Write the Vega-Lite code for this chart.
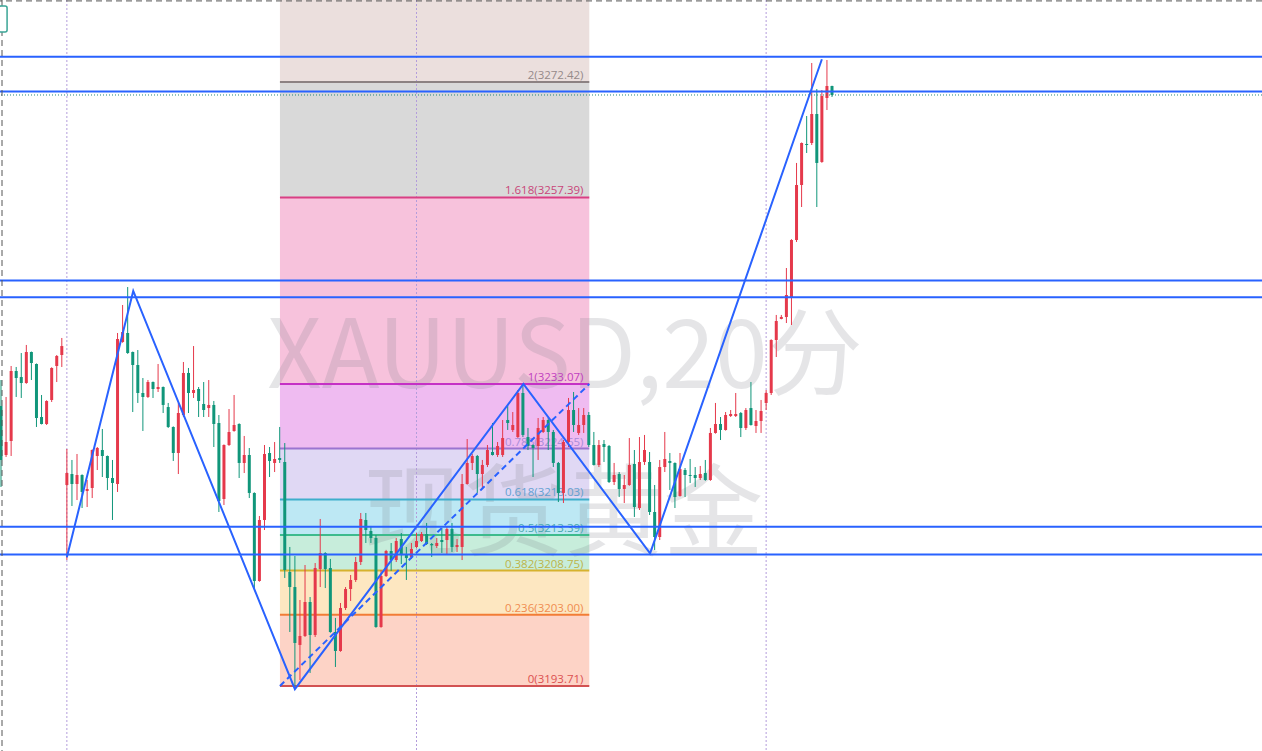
{
"$schema": "https://vega.github.io/schema/vega-lite/v6.json",
"width": 1262, "height": 751,
"autosize": {"type": "fit", "contains": "padding"},
"padding": 0,
"background": "#ffffff",
"config": {"view": {"stroke": null}, "scale": {"continuousPadding": 0}},
"datasets": {
"candles": [
{"i":0,"o":3230.21,"h":3233.59,"l":3219.65,"c":3223.17},
{"i":1,"o":3223.82,"h":3231.38,"l":3223.56,"c":3225.51},
{"i":2,"o":3225.64,"h":3235.42,"l":3223.69,"c":3234.77},
{"i":3,"o":3234.77,"h":3235.29,"l":3231.38,"c":3233.85},
{"i":4,"o":3233.98,"h":3237.11,"l":3231.25,"c":3233.20},
{"i":5,"o":3233.20,"h":3238.16,"l":3233.10,"c":3237.24},
{"i":6,"o":3237.24,"h":3237.30,"l":3233.59,"c":3235.81},
{"i":7,"o":3235.68,"h":3235.75,"l":3227.47,"c":3228.64},
{"i":8,"o":3228.77,"h":3231.64,"l":3227.80,"c":3227.86},
{"i":9,"o":3227.86,"h":3230.95,"l":3227.73,"c":3230.86},
{"i":10,"o":3230.99,"h":3235.25,"l":3230.73,"c":3235.16},
{"i":11,"o":3235.42,"h":3236.85,"l":3233.33,"c":3236.72},
{"i":12,"o":3236.85,"h":3239.07,"l":3235.29,"c":3238.02},
{"i":13,"o":3219.91,"h":3224.60,"l":3210.13,"c":3221.47},
{"i":14,"o":3221.34,"h":3223.17,"l":3217.17,"c":3220.04},
{"i":15,"o":3220.04,"h":3223.95,"l":3217.95,"c":3221.21},
{"i":16,"o":3221.21,"h":3221.30,"l":3216.91,"c":3219.00},
{"i":17,"o":3219.13,"h":3220.56,"l":3217.04,"c":3219.39},
{"i":18,"o":3219.52,"h":3224.55,"l":3218.21,"c":3224.47},
{"i":19,"o":3223.69,"h":3224.86,"l":3221.86,"c":3224.73},
{"i":20,"o":3224.47,"h":3227.21,"l":3220.95,"c":3223.69},
{"i":21,"o":3223.69,"h":3223.75,"l":3219.26,"c":3220.82},
{"i":22,"o":3220.82,"h":3223.17,"l":3215.35,"c":3220.17},
{"i":23,"o":3220.04,"h":3239.72,"l":3219.00,"c":3238.94},
{"i":24,"o":3238.55,"h":3243.37,"l":3238.45,"c":3239.85},
{"i":25,"o":3239.72,"h":3245.71,"l":3237.00,"c":3237.11},
{"i":26,"o":3237.24,"h":3237.30,"l":3229.42,"c":3235.55},
{"i":27,"o":3235.55,"h":3237.50,"l":3230.60,"c":3231.90},
{"i":28,"o":3231.90,"h":3233.85,"l":3226.95,"c":3231.38},
{"i":29,"o":3231.38,"h":3233.59,"l":3231.25,"c":3233.33},
{"i":30,"o":3233.33,"h":3233.40,"l":3231.25,"c":3232.42},
{"i":31,"o":3232.42,"h":3235.68,"l":3232.03,"c":3232.68},
{"i":32,"o":3232.68,"h":3232.75,"l":3229.29,"c":3230.34},
{"i":33,"o":3230.07,"h":3230.60,"l":3227.34,"c":3227.47},
{"i":34,"o":3227.47,"h":3227.55,"l":3223.04,"c":3224.08},
{"i":35,"o":3224.08,"h":3230.60,"l":3221.34,"c":3229.29},
{"i":36,"o":3229.03,"h":3235.94,"l":3228.77,"c":3234.51},
{"i":37,"o":3234.51,"h":3235.16,"l":3229.29,"c":3231.90},
{"i":38,"o":3231.90,"h":3238.02,"l":3231.25,"c":3232.29},
{"i":39,"o":3232.42,"h":3232.68,"l":3228.77,"c":3230.86},
{"i":40,"o":3230.47,"h":3233.33,"l":3228.77,"c":3229.68},
{"i":41,"o":3229.94,"h":3233.59,"l":3228.77,"c":3230.34},
{"i":42,"o":3230.34,"h":3230.86,"l":3224.86,"c":3227.86},
{"i":43,"o":3227.99,"h":3229.03,"l":3216.39,"c":3217.82},
{"i":44,"o":3218.08,"h":3225.20,"l":3217.30,"c":3225.12},
{"i":45,"o":3225.12,"h":3229.81,"l":3225.00,"c":3226.82},
{"i":46,"o":3226.95,"h":3231.64,"l":3226.85,"c":3227.73},
{"i":47,"o":3227.86,"h":3227.95,"l":3220.82,"c":3222.78},
{"i":48,"o":3222.78,"h":3226.30,"l":3221.47,"c":3223.82},
{"i":49,"o":3223.82,"h":3224.73,"l":3218.21,"c":3218.87},
{"i":50,"o":3218.87,"h":3218.95,"l":3206.48,"c":3207.40},
{"i":51,"o":3207.40,"h":3215.87,"l":3207.30,"c":3215.35},
{"i":52,"o":3215.35,"h":3225.12,"l":3214.04,"c":3223.95},
{"i":53,"o":3224.08,"h":3224.86,"l":3220.95,"c":3223.04},
{"i":54,"o":3222.78,"h":3225.51,"l":3221.60,"c":3223.30},
{"i":55,"o":3223.43,"h":3227.47,"l":3222.78,"c":3223.17},
{"i":56,"o":3222.91,"h":3225.38,"l":3207.79,"c":3208.83},
{"i":57,"o":3208.57,"h":3211.83,"l":3200.75,"c":3206.61},
{"i":58,"o":3206.61,"h":3210.66,"l":3193.71,"c":3199.32},
{"i":59,"o":3199.06,"h":3204.92,"l":3194.49,"c":3200.23},
{"i":60,"o":3200.23,"h":3209.48,"l":3200.10,"c":3204.66},
{"i":61,"o":3204.66,"h":3205.31,"l":3195.41,"c":3200.36},
{"i":62,"o":3200.36,"h":3209.74,"l":3200.10,"c":3209.09},
{"i":63,"o":3208.96,"h":3215.48,"l":3206.61,"c":3211.05},
{"i":64,"o":3211.05,"h":3211.15,"l":3206.48,"c":3208.96},
{"i":65,"o":3209.09,"h":3210.27,"l":3200.65,"c":3200.75},
{"i":66,"o":3200.75,"h":3202.58,"l":3196.19,"c":3198.27},
{"i":67,"o":3198.27,"h":3204.53,"l":3198.17,"c":3203.88},
{"i":68,"o":3203.88,"h":3206.61,"l":3203.62,"c":3206.35},
{"i":69,"o":3206.35,"h":3208.18,"l":3204.79,"c":3207.53},
{"i":70,"o":3207.53,"h":3210.53,"l":3207.27,"c":3209.87},
{"i":71,"o":3209.87,"h":3216.26,"l":3209.48,"c":3215.48},
{"i":72,"o":3215.35,"h":3216.26,"l":3212.35,"c":3214.04},
{"i":73,"o":3213.91,"h":3214.57,"l":3212.35,"c":3213.00},
{"i":74,"o":3213.00,"h":3213.39,"l":3201.30,"c":3201.40},
{"i":75,"o":3201.40,"h":3208.83,"l":3201.30,"c":3208.05},
{"i":76,"o":3208.05,"h":3211.45,"l":3207.92,"c":3211.31},
{"i":77,"o":3211.31,"h":3212.35,"l":3208.70,"c":3210.13},
{"i":78,"o":3210.13,"h":3213.00,"l":3209.87,"c":3212.61},
{"i":79,"o":3212.87,"h":3213.65,"l":3209.61,"c":3210.79},
{"i":80,"o":3210.79,"h":3211.83,"l":3207.53,"c":3210.39},
{"i":81,"o":3210.53,"h":3212.35,"l":3210.27,"c":3211.57},
{"i":82,"o":3211.83,"h":3213.65,"l":3211.70,"c":3212.61},
{"i":83,"o":3212.61,"h":3213.78,"l":3212.48,"c":3213.52},
{"i":84,"o":3213.52,"h":3214.96,"l":3212.09,"c":3212.22},
{"i":85,"o":3212.22,"h":3212.35,"l":3210.53,"c":3212.05},
{"i":86,"o":3211.96,"h":3213.00,"l":3211.70,"c":3212.35},
{"i":87,"o":3212.74,"h":3214.30,"l":3211.05,"c":3212.48},
{"i":88,"o":3212.74,"h":3214.43,"l":3210.92,"c":3214.17},
{"i":89,"o":3214.17,"h":3214.96,"l":3211.18,"c":3211.83},
{"i":90,"o":3211.83,"h":3212.87,"l":3211.18,"c":3212.09},
{"i":91,"o":3211.83,"h":3221.34,"l":3210.13,"c":3220.04},
{"i":92,"o":3220.04,"h":3225.90,"l":3219.95,"c":3222.78},
{"i":93,"o":3222.78,"h":3223.95,"l":3221.86,"c":3223.69},
{"i":94,"o":3223.69,"h":3223.82,"l":3218.87,"c":3221.34},
{"i":95,"o":3221.34,"h":3223.17,"l":3219.52,"c":3222.52},
{"i":96,"o":3222.52,"h":3225.12,"l":3222.25,"c":3224.47},
{"i":97,"o":3224.21,"h":3227.99,"l":3223.75,"c":3223.82},
{"i":98,"o":3223.82,"h":3225.51,"l":3223.56,"c":3224.99},
{"i":99,"o":3223.82,"h":3228.38,"l":3223.56,"c":3226.03},
{"i":100,"o":3228.38,"h":3230.34,"l":3227.08,"c":3227.99},
{"i":101,"o":3227.08,"h":3229.42,"l":3226.82,"c":3227.73},
{"i":102,"o":3226.16,"h":3232.29,"l":3226.05,"c":3231.90},
{"i":103,"o":3231.90,"h":3233.07,"l":3226.16,"c":3226.43},
{"i":104,"o":3226.16,"h":3227.34,"l":3224.47,"c":3224.99},
{"i":105,"o":3225.12,"h":3225.20,"l":3220.95,"c":3224.73},
{"i":106,"o":3224.99,"h":3228.64,"l":3223.17,"c":3227.34},
{"i":107,"o":3226.82,"h":3228.77,"l":3226.69,"c":3228.38},
{"i":108,"o":3228.38,"h":3228.64,"l":3224.47,"c":3226.82},
{"i":109,"o":3226.82,"h":3227.08,"l":3222.25,"c":3222.78},
{"i":110,"o":3222.78,"h":3222.91,"l":3217.69,"c":3218.87},
{"i":111,"o":3218.87,"h":3225.77,"l":3217.56,"c":3225.51},
{"i":112,"o":3225.51,"h":3231.25,"l":3224.86,"c":3229.68},
{"i":113,"o":3229.68,"h":3232.03,"l":3226.82,"c":3227.73},
{"i":114,"o":3226.69,"h":3229.94,"l":3226.43,"c":3227.73},
{"i":115,"o":3227.73,"h":3229.94,"l":3226.69,"c":3229.03},
{"i":116,"o":3229.03,"h":3229.42,"l":3224.86,"c":3225.12},
{"i":117,"o":3225.12,"h":3226.82,"l":3222.45,"c":3222.52},
{"i":118,"o":3222.52,"h":3225.77,"l":3222.25,"c":3225.12},
{"i":119,"o":3225.25,"h":3225.77,"l":3222.91,"c":3224.86},
{"i":120,"o":3224.99,"h":3225.12,"l":3220.17,"c":3220.30},
{"i":121,"o":3220.30,"h":3222.78,"l":3219.91,"c":3221.21},
{"i":122,"o":3221.34,"h":3221.60,"l":3218.34,"c":3219.39},
{"i":123,"o":3219.39,"h":3221.21,"l":3217.56,"c":3219.91},
{"i":124,"o":3219.91,"h":3226.03,"l":3219.80,"c":3222.52},
{"i":125,"o":3222.65,"h":3224.47,"l":3215.74,"c":3217.04},
{"i":126,"o":3216.91,"h":3226.16,"l":3216.65,"c":3222.91},
{"i":127,"o":3222.91,"h":3226.43,"l":3222.52,"c":3224.47},
{"i":128,"o":3222.91,"h":3224.21,"l":3216.00,"c":3216.39},
{"i":129,"o":3216.39,"h":3219.91,"l":3211.44,"c":3213.13},
{"i":130,"o":3213.13,"h":3223.17,"l":3212.74,"c":3222.25},
{"i":131,"o":3222.25,"h":3226.82,"l":3221.60,"c":3223.30},
{"i":132,"o":3223.04,"h":3224.08,"l":3219.26,"c":3222.78},
{"i":133,"o":3222.78,"h":3222.85,"l":3216.91,"c":3218.34},
{"i":134,"o":3218.48,"h":3224.08,"l":3218.40,"c":3221.99},
{"i":135,"o":3221.86,"h":3222.12,"l":3218.34,"c":3221.21},
{"i":136,"o":3221.21,"h":3223.30,"l":3220.17,"c":3221.08},
{"i":137,"o":3221.21,"h":3222.25,"l":3219.65,"c":3220.82},
{"i":138,"o":3220.82,"h":3222.39,"l":3220.56,"c":3221.34},
{"i":139,"o":3221.47,"h":3223.17,"l":3220.45,"c":3220.56},
{"i":140,"o":3220.56,"h":3227.34,"l":3220.45,"c":3226.69},
{"i":141,"o":3226.69,"h":3230.60,"l":3226.60,"c":3227.86},
{"i":142,"o":3227.86,"h":3228.77,"l":3225.77,"c":3227.08},
{"i":143,"o":3227.08,"h":3229.42,"l":3227.00,"c":3229.03},
{"i":144,"o":3228.90,"h":3229.68,"l":3228.77,"c":3229.16},
{"i":145,"o":3228.90,"h":3231.90,"l":3228.77,"c":3229.16},
{"i":146,"o":3229.29,"h":3229.42,"l":3226.16,"c":3227.34},
{"i":147,"o":3227.34,"h":3229.94,"l":3227.08,"c":3229.68},
{"i":148,"o":3229.94,"h":3233.33,"l":3227.65,"c":3227.73},
{"i":149,"o":3227.60,"h":3229.68,"l":3226.69,"c":3228.25},
{"i":150,"o":3228.25,"h":3230.99,"l":3226.69,"c":3229.55},
{"i":151,"o":3230.60,"h":3232.29,"l":3229.68,"c":3231.90},
{"i":152,"o":3231.90,"h":3238.90,"l":3231.64,"c":3238.81},
{"i":153,"o":3238.81,"h":3242.07,"l":3236.59,"c":3241.28},
{"i":154,"o":3241.55,"h":3242.07,"l":3241.50,"c":3241.81},
{"i":155,"o":3241.80,"h":3248.19,"l":3241.02,"c":3244.67},
{"i":156,"o":3244.41,"h":3251.95,"l":3240.76,"c":3251.84},
{"i":157,"o":3251.84,"h":3261.88,"l":3251.58,"c":3259.01},
{"i":158,"o":3259.01,"h":3264.55,"l":3256.14,"c":3264.48},
{"i":159,"o":3264.35,"h":3268.00,"l":3263.18,"c":3264.22},
{"i":160,"o":3264.48,"h":3274.91,"l":3264.22,"c":3268.26},
{"i":161,"o":3268.26,"h":3271.52,"l":3256.14,"c":3261.88},
{"i":162,"o":3262.01,"h":3271.39,"l":3261.90,"c":3270.61},
{"i":163,"o":3270.35,"h":3275.30,"l":3268.78,"c":3271.91},
{"i":164,"o":3271.91,"h":3271.95,"l":3270.48,"c":3270.74}
],
"bands": [
{"lvl":"2.618","i":55.05,"i2":116.1,"lo":3272.42,"hi":3296.75},
{"lvl":"2","i":55.05,"i2":116.1,"lo":3257.39,"hi":3272.42},
{"lvl":"1.618","i":55.05,"i2":116.1,"lo":3233.07,"hi":3257.39},
{"lvl":"1","i":55.05,"i2":116.1,"lo":3224.65,"hi":3233.07},
{"lvl":"0.786","i":55.05,"i2":116.1,"lo":3218.03,"hi":3224.65},
{"lvl":"0.618","i":55.05,"i2":116.1,"lo":3213.39,"hi":3218.03},
{"lvl":"0.5","i":55.05,"i2":116.1,"lo":3208.75,"hi":3213.39},
{"lvl":"0.382","i":55.05,"i2":116.1,"lo":3203.00,"hi":3208.75},
{"lvl":"0.236","i":55.05,"i2":116.1,"lo":3193.71,"hi":3203.00}
],
"levels": [
{"lvl":"2","i":55.05,"i2":116.1,"p":3272.42,"t":"2(3272.42)"},
{"lvl":"1.618","i":55.05,"i2":116.1,"p":3257.39,"t":"1.618(3257.39)"},
{"lvl":"1","i":55.05,"i2":116.1,"p":3233.07,"t":"1(3233.07)"},
{"lvl":"0.786","i":55.05,"i2":116.1,"p":3224.65,"t":"0.786(3224.65)"},
{"lvl":"0.618","i":55.05,"i2":116.1,"p":3218.03,"t":"0.618(3218.03)"},
{"lvl":"0.5","i":55.05,"i2":116.1,"p":3213.39,"t":"0.5(3213.39)"},
{"lvl":"0.382","i":55.05,"i2":116.1,"p":3208.75,"t":"0.382(3208.75)"},
{"lvl":"0.236","i":55.05,"i2":116.1,"p":3203.00,"t":"0.236(3203.00)"},
{"lvl":"0","i":55.05,"i2":116.1,"p":3193.71,"t":"0(3193.71)"}
],
"hlines": [{"p":3275.71},{"p":3271.19},{"p":3246.56},{"p":3244.37},{"p":3214.47},{"p":3210.85}],
"zigzag": [{"i":13,"p":3210.5},{"i":26.1,"p":3245.2},{"i":58,"p":3193.3},{"i":103.1,"p":3233.07},{"i":128.1,"p":3211.0},{"i":162,"p":3275.4}],
"trend": [{"i":55.05,"p":3193.71},{"i":116.1,"p":3233.07}],
"sessions": [{"i":13},{"i":82},{"i":151}]
},
"layer": [
{"data":{"name":"bands"},"mark":{"type":"rect","clip":true,"opacity":1},
 "encoding":{
  "x":{"field":"i","type":"quantitative","scale":{"domain":[-0.197,248.86],"nice":false,"zero":false,"padding":0},"axis":null},
  "x2":{"field":"i2"},
  "y":{"field":"lo","type":"quantitative","scale":{"domain":[3185.24,3283.12],"nice":false,"zero":false,"padding":0},"axis":null},
  "y2":{"field":"hi"},
  "color":{"field":"lvl","type":"nominal","legend":null,"scale":{"domain":["2.618","2","1.618","1","0.786","0.618","0.5","0.382","0.236"],"range":["#ebdfdd","#d9d9d9","#f7c2dc","#efbbf1","#e0d8f4","#bde8f4","#c7eddb","#fde7c1","#fdd3c6"]}}}},
{"data":{"values":[{"t":"XAUUSD,20分","i":111.3,"p":3232.55}]},
 "mark":{"type":"text","font":"Noto Sans CJK SC","fontSize":95,"align":"center","baseline":"alphabetic","color":"#787b86","opacity":0.19,"clip":true},
 "encoding":{
  "x":{"field":"i","type":"quantitative","scale":{"domain":[-0.197,248.86],"nice":false,"zero":false,"padding":0},"axis":null},
  "y":{"field":"p","type":"quantitative","scale":{"domain":[3185.24,3283.12],"nice":false,"zero":false,"padding":0},"axis":null},
  "text":{"field":"t"}}},
{"data":{"values":[{"t":"现货黄金","i":111.0,"p":3211.7}]},
 "mark":{"type":"text","font":"Noto Sans CJK SC","fontSize":100,"align":"center","baseline":"alphabetic","color":"#787b86","opacity":0.19,"clip":true},
 "encoding":{
  "x":{"field":"i","type":"quantitative","scale":{"domain":[-0.197,248.86],"nice":false,"zero":false,"padding":0},"axis":null},
  "y":{"field":"p","type":"quantitative","scale":{"domain":[3185.24,3283.12],"nice":false,"zero":false,"padding":0},"axis":null},
  "text":{"field":"t"}}},
{"data":{"name":"sessions"},"mark":{"type":"rule","color":"#b39ddb","strokeWidth":1,"strokeDash":[2,2],"clip":true},
 "encoding":{
  "x":{"field":"i","type":"quantitative","scale":{"domain":[-0.197,248.86],"nice":false,"zero":false,"padding":0},"axis":null}}},
{"data":{"name":"levels"},"mark":{"type":"rule","strokeWidth":2,"clip":true},
 "encoding":{
  "x":{"field":"i","type":"quantitative","scale":{"domain":[-0.197,248.86],"nice":false,"zero":false,"padding":0},"axis":null},
  "x2":{"field":"i2"},
  "y":{"field":"p","type":"quantitative","scale":{"domain":[3185.24,3283.12],"nice":false,"zero":false,"padding":0},"axis":null},
  "color":{"field":"lvl","type":"nominal","legend":null,"scale":{"domain":["2","1.618","1","0.786","0.618","0.5","0.382","0.236","0"],"range":["#8c8282","#d93f84","#c531c5","#9b74d0","#3eaecb","#3dbb8d","#d6b22e","#f27c36","#d25252"]}}}},
{"data":{"name":"levels"},"mark":{"type":"text","font":"Open Sans","fontSize":11.5,"align":"right","baseline":"alphabetic","dy":-3,"clip":true},
 "encoding":{
  "x":{"datum":114.96,"type":"quantitative","scale":{"domain":[-0.197,248.86],"nice":false,"zero":false,"padding":0},"axis":null},
  "y":{"field":"p","type":"quantitative","scale":{"domain":[3185.24,3283.12],"nice":false,"zero":false,"padding":0},"axis":null},
  "text":{"field":"t"},
  "color":{"field":"lvl","type":"nominal","legend":null,"scale":{"domain":["2","1.618","1","0.786","0.618","0.5","0.382","0.236","0"],"range":["#958a8a","#c8467a","#c040c0","#a98cd8","#64a0d2","#4aa8b0","#bdb44a","#f08c50","#dc5050"]}}}},
{"data":{"name":"candles"},"mark":{"type":"rule","strokeWidth":1,"clip":true},
 "encoding":{
  "x":{"field":"i","type":"quantitative","scale":{"domain":[-0.197,248.86],"nice":false,"zero":false,"padding":0},"axis":null},
  "y":{"field":"l","type":"quantitative","scale":{"domain":[3185.24,3283.12],"nice":false,"zero":false,"padding":0},"axis":null},
  "y2":{"field":"h"},
  "color":{"condition":{"test":"datum.c > datum.o","value":"#e5394b"},"value":"#10967a"}}},
{"data":{"name":"candles"},"mark":{"type":"bar","size":3,"clip":true},
 "encoding":{
  "x":{"field":"i","type":"quantitative","scale":{"domain":[-0.197,248.86],"nice":false,"zero":false,"padding":0},"axis":null},
  "y":{"field":"o","type":"quantitative","scale":{"domain":[3185.24,3283.12],"nice":false,"zero":false,"padding":0},"axis":null},
  "y2":{"field":"c"},
  "color":{"condition":{"test":"datum.c > datum.o","value":"#e5394b"},"value":"#10967a"}}},
{"data":{"name":"hlines"},"mark":{"type":"rule","color":"#2962ff","strokeWidth":2,"clip":true},
 "encoding":{
  "y":{"field":"p","type":"quantitative","scale":{"domain":[3185.24,3283.12],"nice":false,"zero":false,"padding":0},"axis":null}}},
{"data":{"values":[{}]},"mark":{"type":"rule","color":"#22877a","strokeWidth":1,"strokeDash":[1,2],"clip":true},
 "encoding":{
  "y":{"datum":3270.74,"type":"quantitative","scale":{"domain":[3185.24,3283.12],"nice":false,"zero":false,"padding":0},"axis":null}}},
{"data":{"name":"trend"},"mark":{"type":"line","color":"#2962ff","strokeWidth":2,"strokeDash":[6,4],"clip":true},
 "encoding":{
  "x":{"field":"i","type":"quantitative","scale":{"domain":[-0.197,248.86],"nice":false,"zero":false,"padding":0},"axis":null},
  "y":{"field":"p","type":"quantitative","scale":{"domain":[3185.24,3283.12],"nice":false,"zero":false,"padding":0},"axis":null}}},
{"data":{"name":"zigzag"},"mark":{"type":"line","color":"#2962ff","strokeWidth":2,"clip":true},
 "encoding":{
  "x":{"field":"i","type":"quantitative","scale":{"domain":[-0.197,248.86],"nice":false,"zero":false,"padding":0},"axis":null},
  "y":{"field":"p","type":"quantitative","scale":{"domain":[3185.24,3283.12],"nice":false,"zero":false,"padding":0},"axis":null}}},
{"data":{"values":[{}]},"mark":{"type":"rule","color":"#555555","strokeWidth":1,"strokeDash":[6,4],"clip":true},
 "encoding":{
  "y":{"datum":3283.0,"type":"quantitative","scale":{"domain":[3185.24,3283.12],"nice":false,"zero":false,"padding":0},"axis":null}}},
{"data":{"values":[{}]},"mark":{"type":"rule","color":"#555555","strokeWidth":1,"strokeDash":[6,4],"clip":true},
 "encoding":{
  "x":{"datum":0.2,"type":"quantitative","scale":{"domain":[-0.197,248.86],"nice":false,"zero":false,"padding":0},"axis":null}}},
{"data":{"values":[{}]},"mark":{"type":"rect","fill":"#ffffff","stroke":"#3aa596","strokeWidth":1.5,"cornerRadius":2,"clip":true},
 "encoding":{
  "x":{"datum":-0.4,"type":"quantitative","scale":{"domain":[-0.197,248.86],"nice":false,"zero":false,"padding":0},"axis":null},
  "x2":{"datum":1.2},
  "y":{"datum":3282.34,"type":"quantitative","scale":{"domain":[3185.24,3283.12],"nice":false,"zero":false,"padding":0},"axis":null},
  "y2":{"datum":3278.95}}}
],
"resolve":{"scale":{"color":"independent"}}
}
